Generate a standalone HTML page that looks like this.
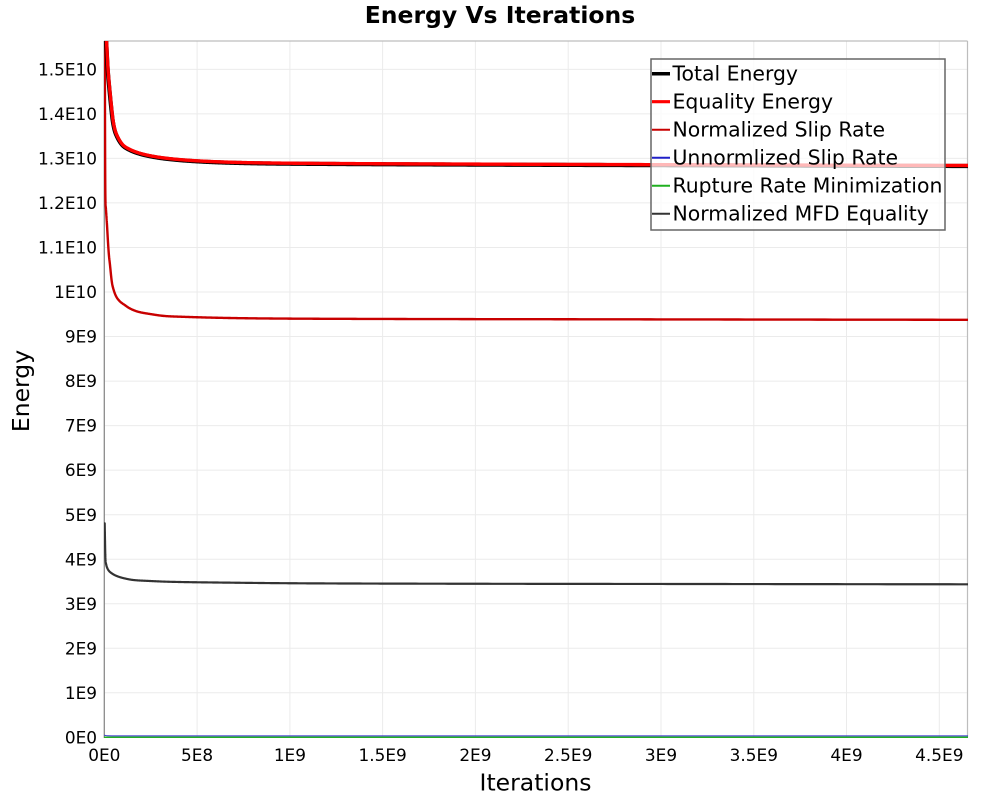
<!DOCTYPE html>
<html>
<head>
<meta charset="utf-8">
<style>
html,body{margin:0;padding:0;background:#fff;}
svg{display:block;}
text{font-family:"DejaVu Sans","Liberation Sans",sans-serif;fill:#000;}
</style>
</head>
<body>
<svg width="1000" height="800" viewBox="0 0 1000 800" xmlns="http://www.w3.org/2000/svg">
<rect x="0" y="0" width="1000" height="800" fill="#fff"/>
<!-- title -->
<text x="500" y="23" font-size="23.5" font-weight="bold" text-anchor="middle">Energy Vs Iterations</text>

<!-- plot background -->
<rect x="104.5" y="41" width="863" height="696.5" fill="#fff"/>

<!-- grid -->
<g stroke="#ebebeb" stroke-width="1">
<line x1="197.1" y1="41" x2="197.1" y2="737"/>
<line x1="289.9" y1="41" x2="289.9" y2="737"/>
<line x1="382.6" y1="41" x2="382.6" y2="737"/>
<line x1="475.4" y1="41" x2="475.4" y2="737"/>
<line x1="568.2" y1="41" x2="568.2" y2="737"/>
<line x1="661.0" y1="41" x2="661.0" y2="737"/>
<line x1="753.8" y1="41" x2="753.8" y2="737"/>
<line x1="846.5" y1="41" x2="846.5" y2="737"/>
<line x1="939.3" y1="41" x2="939.3" y2="737"/>

<line x1="104" y1="692.8" x2="967" y2="692.8"/>
<line x1="104" y1="648.2" x2="967" y2="648.2"/>
<line x1="104" y1="603.7" x2="967" y2="603.7"/>
<line x1="104" y1="559.2" x2="967" y2="559.2"/>
<line x1="104" y1="514.7" x2="967" y2="514.7"/>
<line x1="104" y1="470.1" x2="967" y2="470.1"/>
<line x1="104" y1="425.6" x2="967" y2="425.6"/>
<line x1="104" y1="381.1" x2="967" y2="381.1"/>
<line x1="104" y1="336.5" x2="967" y2="336.5"/>
<line x1="104" y1="292.0" x2="967" y2="292.0"/>
<line x1="104" y1="247.5" x2="967" y2="247.5"/>
<line x1="104" y1="202.9" x2="967" y2="202.9"/>
<line x1="104" y1="158.4" x2="967" y2="158.4"/>
<line x1="104" y1="113.9" x2="967" y2="113.9"/>
<line x1="104" y1="69.4" x2="967" y2="69.4"/>
</g>

<!-- border -->
<line x1="104" y1="41" x2="967.5" y2="41" stroke="#bdbdbd" stroke-width="1.2"/>
<line x1="967.5" y1="41" x2="967.5" y2="737.5" stroke="#bdbdbd" stroke-width="1.2"/>
<line x1="104.3" y1="41" x2="104.3" y2="738" stroke="#8a8a8a" stroke-width="1.3"/>

<clipPath id="pc"><rect x="104" y="41" width="864" height="698"/></clipPath>
<g clip-path="url(#pc)" fill="none" stroke-linejoin="round" stroke-linecap="round">
<!-- bottom lines -->
<polyline points="104.5,737.3 968,737.3" stroke="#22b022" stroke-width="1.5"/>
<polyline points="104.5,735.2 107,735.8 112,735.9 968,735.9" stroke="#3535cc" stroke-width="1"/>

<!-- Normalized MFD -->
<polyline id="mfd" stroke="#333" stroke-width="2.2" points="104.7,523.3 105,540 105.4,558 106.3,565 108.3,570 112,573.5 116.7,576 125,578.5 133.3,580 150,581 166.7,581.7 233,582.7 300,583.3 500,583.8 700,584 968,584.3"/>

<!-- Normalized Slip Rate -->
<polyline id="nsr" stroke="#c80000" stroke-width="2.4" points="104.8,35 105.3,190 106,210 107,225 108,242 109,256 110,265 112,283 114,291 116.3,296.7 120,301.5 124.7,305 130,308.5 138,311.7 150,314 164.7,316 183,316.8 250,318.3 400,319 600,319.3 968,319.8"/>

<!-- Total Energy -->
<polyline id="tot" stroke="#000" stroke-width="4.2" transform="translate(-0.3,0.5)" points="105.5,30 106,41 108,69 110,92 111.5,107 113,120 115,130 118,137.5 123,145 130,149.5 140,153.3 150,155.7 166.7,158.3 200,161 250,162.7 350,163.6 500,164.2 700,164.8 968,165.5"/>
<!-- Equality Energy -->
<polyline id="eq" stroke="#ff0000" stroke-width="3.4" points="105.5,30 106,41 108,69 110,92 111.5,107 113,120 115,130 118,137.5 123,145 130,149.5 140,153.3 150,155.7 166.7,158.3 200,161 250,162.7 350,163.6 500,164.2 700,164.8 968,165.5"/>
</g>

<!-- y tick labels -->
<g font-size="16.9" text-anchor="end">
<text x="97" y="743.4">0E0</text>
<text x="97" y="698.9">1E9</text>
<text x="97" y="654.3">2E9</text>
<text x="97" y="609.8">3E9</text>
<text x="97" y="565.3">4E9</text>
<text x="97" y="520.8">5E9</text>
<text x="97" y="476.2">6E9</text>
<text x="97" y="431.7">7E9</text>
<text x="97" y="387.2">8E9</text>
<text x="97" y="342.6">9E9</text>
<text x="97" y="298.1">1E10</text>
<text x="97" y="253.6">1.1E10</text>
<text x="97" y="209.0">1.2E10</text>
<text x="97" y="164.5">1.3E10</text>
<text x="97" y="120.0">1.4E10</text>
<text x="97" y="75.5">1.5E10</text>
</g>

<!-- x tick labels -->
<g font-size="16.9" text-anchor="middle">
<text x="104.3" y="760.9">0E0</text>
<text x="197.1" y="760.9">5E8</text>
<text x="289.9" y="760.9">1E9</text>
<text x="382.6" y="760.9">1.5E9</text>
<text x="475.4" y="760.9">2E9</text>
<text x="568.2" y="760.9">2.5E9</text>
<text x="661.0" y="760.9">3E9</text>
<text x="753.8" y="760.9">3.5E9</text>
<text x="846.5" y="760.9">4E9</text>
<text x="939.3" y="760.9">4.5E9</text>
</g>

<!-- axis titles -->
<text x="535.5" y="790.7" font-size="23.5" text-anchor="middle">Iterations</text>
<text transform="translate(29,391) rotate(-90)" x="0" y="0" font-size="23.5" text-anchor="middle">Energy</text>

<!-- legend -->
<rect x="651" y="59" width="294" height="171" fill="#fff" fill-opacity="0.72" stroke="#666" stroke-width="1.5"/>
<g stroke-linecap="butt">
<line x1="652" y1="73.7" x2="670" y2="73.7" stroke="#000" stroke-width="3.5"/>
<line x1="652" y1="101.7" x2="670" y2="101.7" stroke="#ff0000" stroke-width="3.2"/>
<line x1="652" y1="129.7" x2="670" y2="129.7" stroke="#c80000" stroke-width="2"/>
<line x1="652" y1="157.7" x2="670" y2="157.7" stroke="#2020c8" stroke-width="2"/>
<line x1="652" y1="185.7" x2="670" y2="185.7" stroke="#20b020" stroke-width="2"/>
<line x1="652" y1="213.7" x2="670" y2="213.7" stroke="#333" stroke-width="2"/>
</g>
<g font-size="20.4">
<text x="672.5" y="80.7">Total Energy</text>
<text x="672.5" y="108.7">Equality Energy</text>
<text x="672.5" y="136.7">Normalized Slip Rate</text>
<text x="672.5" y="164.7">Unnormlized Slip Rate</text>
<text x="672.5" y="192.7">Rupture Rate Minimization</text>
<text x="672.5" y="220.7">Normalized MFD Equality</text>
</g>
</svg>
<script>
(function(){
  var X0 = 104.3;
  function build(pts){
    var n = pts.length, u = [], y = [], d = [], m = [], i;
    for (i = 0; i < n; i++){ u.push(Math.log(pts[i][0] - X0)); y.push(pts[i][1]); }
    for (i = 0; i < n - 1; i++) d.push((y[i+1]-y[i])/(u[i+1]-u[i]));
    m[0] = d[0]; m[n-1] = d[n-2];
    for (i = 1; i < n - 1; i++){
      if (d[i-1]*d[i] <= 0) m[i] = 0; else m[i] = (d[i-1]+d[i])/2;
    }
    for (i = 0; i < n - 1; i++){
      if (d[i] === 0){ m[i] = 0; m[i+1] = 0; continue; }
      var a = m[i]/d[i], b = m[i+1]/d[i], s = a*a + b*b;
      if (s > 9){ var t = 3/Math.sqrt(s); m[i] = t*a*d[i]; m[i+1] = t*b*d[i]; }
    }
    var N = 700, out = [], seg = 0;
    for (var k = 0; k <= N; k++){
      var uu = u[0] + (u[n-1]-u[0])*k/N;
      while (seg < n - 2 && uu > u[seg+1]) seg++;
      var h = u[seg+1]-u[seg], tt = (uu-u[seg])/h;
      var t2 = tt*tt, t3 = t2*tt;
      var yy = (2*t3-3*t2+1)*y[seg] + (t3-2*t2+tt)*h*m[seg] + (-2*t3+3*t2)*y[seg+1] + (t3-t2)*h*m[seg+1];
      var xx = X0 + Math.exp(uu);
      out.push(xx.toFixed(2) + "," + yy.toFixed(2));
    }
    return out.join(" ");
  }
  try {
    var top = [[105.9,36],[106.5,41],[108,69],[110,92],[111.5,107],[113,120],[115,130],[118,137.5],[123,145],[130,149.5],[140,153.3],[150,155.7],[166.7,158.3],[200,161],[250,162.7],[350,163.6],[500,164.2],[700,164.8],[968,165.5]];
    var nsr = [[104.8,30],[105.3,190],[106,210],[107,225],[109,256],[110,265],[112,283],[114,291],[116.3,296.7],[120,301.5],[124.7,305],[130,308.5],[138,311.7],[150,314],[164.7,316],[183,316.8],[250,318.3],[400,319],[600,319.3],[968,319.8]];
    var mfd = [[104.7,523.3],[105,540],[105.4,558],[106.3,565],[108.3,570],[112,573.5],[116.7,576],[125,578.5],[133.3,580],[150,581],[166.7,581.7],[233,582.7],[300,583.3],[500,583.8],[700,584],[968,584.3]];
    var pt = build(top);
    document.getElementById("tot").setAttribute("points", pt);
    document.getElementById("eq").setAttribute("points", pt);
    document.getElementById("nsr").setAttribute("points", build(nsr));
    document.getElementById("mfd").setAttribute("points", build(mfd));
  } catch(e) {}
})();
</script>
</body>
</html>
